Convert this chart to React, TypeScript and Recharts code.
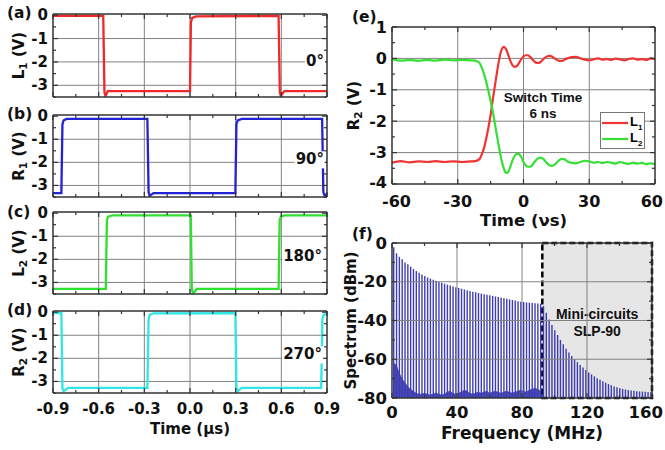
import React from 'react';
import {
  LineChart,
  Line,
  XAxis,
  YAxis,
  ReferenceLine,
  ReferenceArea,
  ComposedChart,
  Bar,
  Area,
  Legend,
} from 'recharts';

// ---- fonts / colours ----
const T_FONT = "'DejaVu Sans', Verdana, sans-serif";
const A_FONT = "'Liberation Sans', Arial, sans-serif";
const FRAME = '#333';
const GRID = '#828282';

// ---- left panels (a)-(d): time in us, volts ----
const LEFT_X_TICKS = [-0.9, -0.75, -0.6, -0.45, -0.3, -0.15, 0, 0.15, 0.3, 0.45, 0.6, 0.75, 0.9];
const LEFT_X_MAJOR = [-0.9, -0.6, -0.3, 0, 0.3, 0.6, 0.9];
const LEFT_X_GRID = [-0.6, -0.3, 0, 0.3, 0.6];
const LEFT_Y_TICKS = [-3.5, -3, -2.5, -2, -1.5, -1, -0.5, 0];
const LEFT_Y_MAJOR = [-3, -2, -1, 0];
const LEFT_Y_GRID = [-3, -2, -1];

const A_T = [-0.9, -0.57, -0.562, -0.555, -0.54, -0.5, 0.0, 0.006, 0.015, 0.04, 0.582, 0.59, 0.597, 0.62, 0.9];
const A_V = [-0.03, -0.03, -3.3, -3.45, -3.25, -3.25, -3.25, -0.3, -0.12, -0.05, -0.03, -3.3, -3.45, -3.25, -3.25];

const B_T = [-0.9, -0.845, -0.838, -0.83, -0.81, -0.28, -0.272, -0.265, -0.24, 0.298, 0.305, 0.313, 0.34, 0.868, 0.876, 0.885, 0.9];
const B_V = [-3.33, -3.33, -0.35, -0.18, -0.12, -0.12, -3.3, -3.45, -3.33, -3.33, -0.35, -0.18, -0.12, -0.12, -3.3, -3.45, -3.35];

const C_T = [-0.9, -0.553, -0.546, -0.538, -0.51, 0.005, 0.012, 0.02, 0.045, 0.582, 0.589, 0.597, 0.62, 0.9];
const C_V = [-3.28, -3.28, -0.3, -0.15, -0.1, -0.1, -3.3, -3.48, -3.28, -3.28, -0.3, -0.15, -0.1, -0.1];

const D_T = [-0.9, -0.845, -0.838, -0.83, -0.8, -0.28, -0.272, -0.265, -0.24, 0.298, 0.305, 0.313, 0.34, 0.862, 0.87, 0.878, 0.9];
const D_V = [-0.04, -0.04, -3.3, -3.42, -3.28, -3.28, -0.3, -0.12, -0.05, -0.04, -3.3, -3.42, -3.28, -3.28, -0.3, -0.12, -0.05];

// ---- panel (e): switching edge, ns ----
const E_T = [
  -60, -56, -52, -48, -44, -40, -36, -32, -28, -24,
  -22, -20,
  -19, -18, -17, -16, -15, -14, -13, -12, -11, -10,
  -9, -8, -7, -6, -5, -4, -3, -2, -1, 0,
  1, 2, 3, 4, 5, 6, 7, 8, 9, 10,
  11, 12, 13, 14, 15, 16, 17, 18, 19, 20,
  22, 24, 26, 28, 30, 32, 34, 36, 38, 40,
  42, 44, 46, 48, 50, 52, 54, 56, 58, 60,
];
const E_L1 = [
  -3.32, -3.27, -3.31, -3.28, -3.3, -3.27, -3.3, -3.28, -3.3, -3.28,
  -3.27, -3.2,
  -3.05, -2.85, -2.55, -2.2, -1.8, -1.3, -0.85, -0.4, 0.0, 0.28,
  0.37, 0.3, 0.12, -0.08, -0.22, -0.27, -0.24, -0.14, -0.02, 0.06,
  0.1, 0.1, 0.05, -0.03, -0.1, -0.14, -0.14, -0.1, -0.03, 0.03,
  0.07, 0.08, 0.06, 0.01, -0.04, -0.07, -0.08, -0.07, -0.03, 0.0,
  0.04, 0.05, 0.0, -0.04, -0.06, -0.03, 0.0, -0.04, -0.02, -0.05,
  -0.01, -0.03, -0.06, -0.02, 0.0, -0.04, -0.02, -0.05, 0.0, -0.03,
];
const E_L2 = [
  -0.02, -0.07, -0.05, -0.08, -0.05, -0.07, -0.04, -0.06, -0.05, -0.06,
  -0.07, -0.15,
  -0.3, -0.5, -0.75, -1.05, -1.35, -1.7, -2.1, -2.5, -2.9, -3.25,
  -3.5, -3.65, -3.62, -3.45, -3.25, -3.1, -3.04, -3.05, -3.15, -3.3,
  -3.4, -3.45, -3.45, -3.4, -3.3, -3.22, -3.17, -3.16, -3.2, -3.28,
  -3.36, -3.41, -3.42, -3.4, -3.33, -3.26, -3.21, -3.2, -3.22, -3.28,
  -3.33, -3.34, -3.3, -3.26, -3.28, -3.32, -3.3, -3.33, -3.3, -3.32,
  -3.35, -3.3, -3.33, -3.36, -3.32, -3.35, -3.33, -3.37, -3.34, -3.36,
];
const E_X_TICKS = [-60, -45, -30, -15, 0, 15, 30, 45, 60];
const E_X_MAJOR = [-60, -30, 0, 30, 60];
const E_Y_TICKS = [-4, -3.5, -3, -2.5, -2, -1.5, -1, -0.5, 0, 0.5, 1];
const E_Y_MAJOR = [-4, -3, -2, -1, 0, 1];

// ---- panel (f): odd-harmonic comb, MHz / dBm ----
const FREQS = [
  0.87, 2.61, 4.35, 6.09, 7.83, 9.57, 11.3, 13.04, 14.78, 16.52,
  18.26, 20.0, 21.74, 23.48, 25.22, 26.96, 28.7, 30.43, 32.17, 33.91,
  35.65, 37.39, 39.13, 40.87, 42.61, 44.35, 46.09, 47.83, 49.57, 51.3,
  53.04, 54.78, 56.52, 58.26, 60.0, 61.74, 63.48, 65.22, 66.96, 68.7,
  70.43, 72.17, 73.91, 75.65, 77.39, 79.13, 80.87, 82.61, 84.35, 86.09,
  87.83, 89.57, 91.3, 93.04, 94.78, 96.52, 98.26, 100.0, 101.74, 103.48,
  105.22, 106.96, 108.7, 110.43, 112.17, 113.91, 115.65, 117.39, 119.13, 120.87,
  122.61, 124.35, 126.09, 127.83, 129.57, 131.3, 133.04, 134.78, 136.52, 138.26,
  140.0, 141.74, 143.48, 145.22, 146.96, 148.7, 150.43, 152.17, 153.91, 155.65,
  157.39, 159.13,
];
const PEAKS = [
  -2.2, -5.3, -7.1, -8.4, -10.0, -11.0, -12.2, -13.4, -14.5, -15.3,
  -16.3, -17.0, -17.8, -18.4, -19.0, -19.5, -20.0, -20.5, -21.0, -21.5,
  -21.9, -22.4, -22.8, -23.2, -23.6, -24.0, -24.4, -24.8, -25.1, -25.4,
  -25.8, -26.1, -26.4, -26.7, -27.0, -27.3, -27.6, -27.9, -28.2, -28.5,
  -28.8, -29.1, -29.4, -29.7, -30.0, -30.3, -30.5, -30.7, -30.8, -31.0,
  -31.1, -31.2, -31.3, -32.5, -36.0, -39.5, -42.3, -45.0, -47.5, -50.0,
  -52.3, -54.6, -56.5, -58.3, -60.0, -61.5, -63.0, -64.3, -65.6, -66.8,
  -67.8, -68.8, -69.8, -70.6, -71.4, -72.1, -72.8, -73.4, -74.0, -74.5,
  -75.0, -75.3, -75.6, -75.9, -76.1, -76.3, -76.5, -76.6, -76.7, -76.8,
  -76.9, -77.0,
];
const NOISE = [
  -62, -63, -67, -70, -72, -74, -75.5, -76.5, -77.5, -78,
  -78, -77.5, -78, -78.5, -78, -77.5, -78, -78.5, -78, -77,
  -76.5, -77.5, -78, -77.5, -77, -76, -76.5, -77.5, -78, -77.5,
  -77, -77.5, -77, -76.5, -77.5, -77, -76.5, -77, -77.5, -77,
  -76.5, -77, -77.5, -77, -76.5, -76, -76.5, -77, -76, -75.5,
  -75, -75.5, -76.5, -78,
];
const F_X_TICKS = [0, 20, 40, 60, 80, 100, 120, 140, 160];
const F_X_MAJOR = [0, 40, 80, 120, 160];
const F_Y_TICKS = [-80, -70, -60, -50, -40, -30, -20, -10, 0];
const F_Y_MAJOR = [-80, -60, -40, -20, 0];
const FILTER_START = 92.5;

type Side = 'bottom' | 'top' | 'left' | 'right';

const txt = { fontFamily: T_FONT, fontWeight: 700, fill: '#111' } as const;

function makeTick(
  side: Side,
  majors: number[],
  showLabel: boolean,
  fs: number,
  off: number,
  fmt: (v: number) => string = String,
  minX = -9999,
  maxX = 9999,
  lift?: number,
) {
  return (p: any) => {
    const v = Number(p.payload?.value);
    const x = Number(p.x);
    const y = Number(p.y);
    const major = majors.some((m) => Math.abs(m - v) < 1e-6);
    const len = major ? 5 : 3;
    let x2 = x;
    let y2 = y;
    if (side === 'bottom') y2 = y - len;
    if (side === 'top') y2 = y + len;
    if (side === 'left') x2 = x + len;
    if (side === 'right') x2 = x - len;
    let label = null;
    if (showLabel && major) {
      const s = fmt(v);
      if (side === 'bottom') {
        // edge labels are pulled inside, as in the original figure
        const half = (s.length * fs * 0.66) / 2;
        let lx = x;
        let anchor: 'middle' | 'start' | 'end' = 'middle';
        if (x + half > maxX) {
          lx = maxX;
          anchor = 'end';
        } else if (x - half < minX) {
          lx = minX;
          anchor = 'start';
        }
        label = (
          <text x={lx} y={y + off} textAnchor={anchor} dominantBaseline="central" fontSize={fs} {...txt}>
            {s}
          </text>
        );
      } else {
        const ly = lift !== undefined && Math.abs(v - lift) < 1e-6 ? y - 2 : y;
        label = (
          <text x={x - off} y={ly} textAnchor="end" dominantBaseline="central" fontSize={fs} {...txt}>
            {s}
          </text>
        );
      }
    }
    return (
      <g>
        <line x1={x} y1={y} x2={x2} y2={y2} stroke={FRAME} strokeWidth={1.2} />
        {label}
      </g>
    );
  };
}

type FrameOpts = {
  xKey: string;
  xDomain: [number, number];
  xTicks: number[];
  xMajor: number[];
  xFmt?: (v: number) => string;
  showX: boolean;
  xDy: number;
  minX?: number;
  maxX?: number;
  yDomain: [number, number];
  yTicks: number[];
  yMajor: number[];
  yLift?: number;
  fs: number;
  titleFs: number;
  xTitle?: React.ReactNode;
  xTitleDy?: number;
  yTitle: React.ReactNode;
  yTitleDx: number;
  xGrid: number[];
  yGrid: number[];
};

// four-sided frame with inward ticks, like the original plotting program
function frameAxes(o: FrameOpts) {
  const common: any = {
    type: 'number',
    allowDataOverflow: true,
    interval: 0,
    tickSize: 0,
    tickMargin: 0,
    tickLine: false,
    axisLine: { stroke: FRAME, strokeWidth: 1.5 },
  };
  const xTitle = o.xTitle
    ? (p: any) => {
        const vb = p.viewBox || { x: 0, y: 0, width: 0 };
        return (
          <text x={vb.x + vb.width / 2} y={vb.y + (o.xTitleDy || 30)} textAnchor="middle" dominantBaseline="central" fontSize={o.titleFs} {...txt}>
            {o.xTitle}
          </text>
        );
      }
    : undefined;
  const yTitle = (p: any) => {
    const vb = p.viewBox || { x: 0, y: 0, width: 0, height: 0 };
    const cx = vb.x + vb.width + o.yTitleDx;
    const cy = vb.y + vb.height / 2;
    return (
      <text x={cx} y={cy} transform={`rotate(-90 ${cx} ${cy})`} textAnchor="middle" dominantBaseline="central" fontSize={15} {...txt}>
        {o.yTitle}
      </text>
    );
  };
  return [
    <XAxis
      key="xb"
      {...common}
      dataKey={o.xKey}
      domain={o.xDomain}
      ticks={o.xTicks}
      height={1}
      tick={makeTick('bottom', o.xMajor, o.showX, o.fs, o.xDy, o.xFmt, o.minX, o.maxX)}
      label={xTitle}
    />,
    <XAxis
      key="xt"
      {...common}
      xAxisId="top"
      orientation="top"
      dataKey={o.xKey}
      domain={o.xDomain}
      ticks={o.xTicks}
      height={1}
      tick={makeTick('top', o.xMajor, false, 0, 0)}
    />,
    <YAxis
      key="yl"
      {...common}
      domain={o.yDomain}
      ticks={o.yTicks}
      width={1}
      tick={makeTick('left', o.yMajor, true, o.fs, 5, String, -9999, 9999, o.yLift)}
      label={yTitle}
    />,
    <YAxis key="yr" {...common} yAxisId="right" orientation="right" domain={o.yDomain} ticks={o.yTicks} width={1} tick={makeTick('right', o.yMajor, false, 0, 0)} />,
    ...o.xGrid.map((v) => <ReferenceLine key={`gx${v}`} x={v} stroke={GRID} strokeWidth={1} />),
    ...o.yGrid.map((v) => <ReferenceLine key={`gy${v}`} y={v} stroke={GRID} strokeWidth={1} />),
  ];
}

const sub = (base: string, s: string, rest: string) => (
  <>
    {base}
    <tspan fontSize="70%" dy={4}>{s}</tspan>
    <tspan dy={-4}>{rest}</tspan>
  </>
);

function Note({ x, y, children, align = 'left', font = T_FONT, size = 15, bg }: any) {
  return (
    <div
      style={{
        position: 'absolute',
        left: x,
        top: y,
        transform: `translate(${align === 'right' ? '-100%' : align === 'center' ? '-50%' : '0'}, -50%)`,
        fontFamily: font,
        fontWeight: 700,
        fontSize: size,
        lineHeight: 1.15,
        color: '#111',
        whiteSpace: 'nowrap',
        textAlign: align === 'right' ? 'right' : align === 'center' ? 'center' : 'left',
        background: bg,
        padding: bg ? '0 1px' : 0,
      }}
    >
      {children}
    </div>
  );
}

function SquarePanel({ top, height, mt, mb, t, v, color, yTitle, showX }: any) {
  const data = t.map((x: number, i: number) => ({ t: x, v: v[i] }));
  return (
    <div style={{ position: 'absolute', left: 0, top }}>
      <LineChart width={340} height={height} data={data} margin={{ top: mt - 1, right: 12, bottom: mb - 1, left: 52 }}>
        {frameAxes({
          xKey: 't',
          xDomain: [-0.9, 0.9],
          xTicks: LEFT_X_TICKS,
          xMajor: LEFT_X_MAJOR,
          xFmt: (n) => n.toFixed(1),
          showX,
          xDy: 16,
          yDomain: [-3.5, 0.05],
          yTicks: LEFT_Y_TICKS,
          yMajor: LEFT_Y_MAJOR,
          fs: 15,
          titleFs: 15,
          xTitle: showX ? 'Time (\u03bcs)' : undefined,
          xTitleDy: 36,
          yTitle,
          yTitleDx: -34.5,
          xGrid: LEFT_X_GRID,
          yGrid: LEFT_Y_GRID,
        })}
        <Line dataKey="v" type="linear" stroke={color} strokeWidth={2.3} dot={false} isAnimationActive={false} />
      </LineChart>
    </div>
  );
}

const legendContent = (props: any) => (
  <div style={{ width: 45, height: 37, border: '1px solid #777', background: '#fff', boxSizing: 'border-box', paddingTop: 2 }}>
    {(props.payload || []).map((e: any) => (
      <div key={e.value} style={{ display: 'flex', alignItems: 'center', height: 16 }}>
        <svg width={27} height={6} style={{ display: 'block' }}>
          <line x1={1} x2={27} y1={3} y2={3} stroke={e.color} strokeWidth={2.2} />
        </svg>
        <span style={{ fontFamily: A_FONT, fontWeight: 700, fontSize: 13, marginLeft: 2, lineHeight: 1 }}>
          {String(e.value).charAt(0)}
          <sub style={{ fontSize: 8 }}>{String(e.value).slice(1)}</sub>
        </span>
      </div>
    ))}
  </div>
);

export default function App() {
  const eData = E_T.map((t, i) => ({ t, l1: E_L1[i], l2: E_L2[i] }));
  const fData = FREQS.map((f, i) => ({ f, peak: [-80, PEAKS[i]], noise: i < NOISE.length ? NOISE[i] : null }));

  return (
    <div style={{ position: 'absolute', left: 0, top: 0, width: 665, height: 450, background: '#fff', overflow: 'hidden' }}>
      <SquarePanel top={0} height={100} mt={14} mb={3} t={A_T} v={A_V} color="#f02828" yTitle={sub('L', '1', ' (V)')} showX={false} />
      <SquarePanel top={100} height={100} mt={15} mb={3} t={B_T} v={B_V} color="#2323d6" yTitle={sub('R', '1', ' (V)')} showX={false} />
      <SquarePanel top={198} height={100} mt={14} mb={4} t={C_T} v={C_V} color="#2fe02f" yTitle={sub('L', '2', ' (V)')} showX={false} />
      <SquarePanel top={297} height={153} mt={14} mb={57} t={D_T} v={D_V} color="#2ee6e6" yTitle={sub('R', '2', ' (V)')} showX />

      {/* (e) */}
      <div style={{ position: 'absolute', left: 340, top: 0 }}>
        <LineChart width={325} height={230} data={eData} margin={{ top: 26, right: 9, bottom: 45, left: 51 }}>
          {frameAxes({
            xKey: 't',
            xDomain: [-60, 60],
            xTicks: E_X_TICKS,
            xMajor: E_X_MAJOR,
            showX: true,
            xDy: 17,
            minX: 42,
            maxX: 323,
            yDomain: [-4, 1],
            yTicks: E_Y_TICKS,
            yMajor: E_Y_MAJOR,
            yLift: -4,
            fs: 16,
            titleFs: 16.5,
            xTitle: 'Time (\u03bds)',
            xTitleDy: 36,
            yTitle: sub('R', '2', ' (V)'),
            yTitleDx: -38,
            xGrid: [-30, 0, 30],
            yGrid: [-3, -2, -1, 0],
          })}
          <Line name="L1" dataKey="l1" type="monotone" stroke="#f03434" strokeWidth={2.2} dot={false} isAnimationActive={false} />
          <Line name="L2" dataKey="l2" type="monotone" stroke="#33e033" strokeWidth={2.2} dot={false} isAnimationActive={false} />
          <Legend
            layout="vertical"
            align="center"
            verticalAlign="middle"
            content={legendContent}
            wrapperStyle={{ position: 'absolute', left: 260, top: 112, width: 45, height: 37 }}
          />
        </LineChart>
      </div>

      {/* (f) */}
      <div style={{ position: 'absolute', left: 340, top: 228 }}>
        <ComposedChart width={325} height={222} data={fData} margin={{ top: 14, right: 12, bottom: 51, left: 51 }}>
          <ReferenceArea x1={FILTER_START} x2={160} y1={-80} y2={0} fill="#e6e6e6" fillOpacity={1} stroke="none" />
          {frameAxes({
            xKey: 'f',
            xDomain: [0, 160],
            xTicks: F_X_TICKS,
            xMajor: F_X_MAJOR,
            showX: true,
            xDy: 14.5,
            maxX: 323,
            yDomain: [-80, 0],
            yTicks: F_Y_TICKS,
            yMajor: F_Y_MAJOR,
            fs: 16.5,
            titleFs: 17,
            xTitle: 'Frequency (MHz)',
            xTitleDy: 35,
            yTitle: 'Spectrum (dBm)',
            yTitleDx: -41,
            xGrid: [40, 80, 120],
            yGrid: [-60, -40, -20],
          })}
          <Bar dataKey="peak" fill="#3c3cb4" barSize={1.4} isAnimationActive={false} />
          <Area
            dataKey="noise"
            type="linear"
            baseValue="dataMin"
            fill="#2a2aa6"
            fillOpacity={0.85}
            stroke="#2a2aa6"
            strokeWidth={0.6}
            isAnimationActive={false}
          />
          <ReferenceArea
            x1={FILTER_START}
            x2={160}
            y1={-80}
            y2={0}
            fill="none"
            stroke="#000"
            strokeWidth={2.5}
            strokeDasharray="6 3"
            label={(p: any) => {
              const vb = p.viewBox || { x: 0, y: 0, width: 0, height: 0 };
              const cx = vb.x + vb.width / 2;
              const cy = vb.y + vb.height / 2;
              return (
                <text textAnchor="middle" fontFamily={A_FONT} fontWeight={700} fontSize={14} fill="#111">
                  <tspan x={cx} y={cy - 2}>Mini-circuits</tspan>
                  <tspan x={cx} y={cy + 15}>SLP-90</tspan>
                </text>
              );
            }}
          />
        </ComposedChart>
      </div>

      {/* panel letters and annotations */}
      <Note x={7} y={14} size={15.5}>(a)</Note>
      <Note x={7} y={115} size={15.5}>(b)</Note>
      <Note x={7} y={213} size={15.5}>(c)</Note>
      <Note x={7} y={311} size={15.5}>(d)</Note>
      <Note x={352} y={18} size={15.5}>(e)</Note>
      <Note x={352} y={235} size={15.5}>(f)</Note>

      <Note x={325} y={62} align="right" size={15} bg="#fff">0°</Note>
      <Note x={325} y={160} align="right" size={15} bg="#fff">90°</Note>
      <Note x={323} y={257} align="right" size={15} bg="#fff">180°</Note>
      <Note x={323} y={355} align="right" size={15} bg="#fff">270°</Note>

      <Note x={543} y={106} align="center" font={A_FONT} size={13.5}>
        Switch Time
        <br />6 ns
      </Note>
    </div>
  );
}
